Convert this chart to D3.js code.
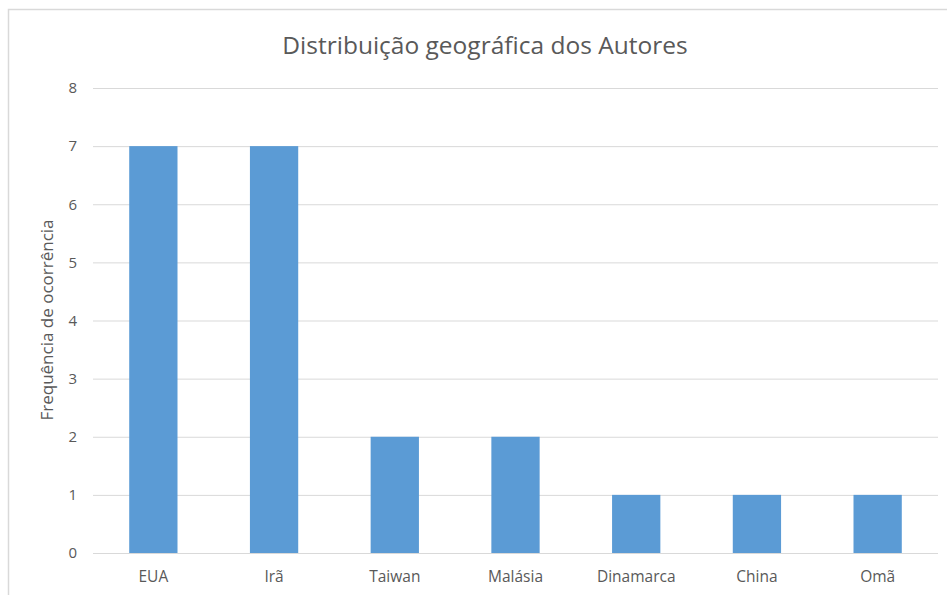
<!DOCTYPE html>
<html><head><meta charset="utf-8">
<script src="https://cdn.jsdelivr.net/npm/d3@7"></script>
<style>body{margin:0;background:#fff}svg{display:block}</style>
</head><body>
<script>
const categories = ["EUA","Irã","Taiwan","Malásia","Dinamarca","China","Omã"];
const values = [7,7,2,2,1,1,1];
const yTicks = [0,1,2,3,4,5,6,7,8];
const title = "Distribuição geográfica dos Autores";
const yTitle = "Frequência de ocorrência";

const W=947,H=595;
const svg=d3.select("body").append("svg").attr("width",W).attr("height",H);
const font="'Open Sans', 'Liberation Sans', sans-serif";
// outer chart border
svg.append("rect").attr("x",8.5).attr("y",9.5).attr("width",W+10).attr("height",H+10)
  .attr("fill","#fff").attr("stroke","#d9d9d9").attr("stroke-width",1.5);

const x=d3.scaleBand().domain(categories).range([93,938]).paddingInner(0.6).paddingOuter(0.3);
const y=d3.scaleLinear().domain([0,8]).range([553,88]);

// gridlines
svg.append("g").selectAll("line").data(yTicks).join("line")
  .attr("x1",93).attr("x2",938).attr("y1",d=>y(d)+0.5).attr("y2",d=>y(d)+0.5)
  .attr("stroke","#d9d9d9").attr("stroke-width",1);

// y axis labels
const ya=svg.append("g").attr("transform","translate(77,0)")
  .call(d3.axisLeft(y).tickValues(yTicks).tickSize(0).tickPadding(0).tickFormat(d3.format("d")));
ya.select(".domain").remove();
ya.selectAll("text").attr("font-family",font).attr("font-size",15).attr("fill","#595959");

// bars
svg.append("g").selectAll("rect").data(values).join("rect")
  .attr("x",(d,i)=>x(categories[i])).attr("width",x.bandwidth())
  .attr("y",d=>y(d)).attr("height",d=>y(0)-y(d))
  .attr("fill","#5b9bd5");

// x axis labels
const xa=svg.append("g").attr("transform","translate(0,553)")
  .call(d3.axisBottom(x).tickSize(0).tickPadding(18));
xa.select(".domain").remove();
xa.selectAll("text").attr("font-family",font).attr("font-size",15.5).attr("fill","#595959");

// title
svg.append("text").attr("x",485).attr("y",54).attr("text-anchor","middle")
  .attr("font-family",font).attr("font-size",24.5).attr("fill","#595959").text(title);

// y title
svg.append("text").attr("transform","translate(53,320) rotate(-90)").attr("text-anchor","middle")
  .attr("font-family",font).attr("font-size",17).attr("fill","#595959").text(yTitle);
</script>
</body></html>
